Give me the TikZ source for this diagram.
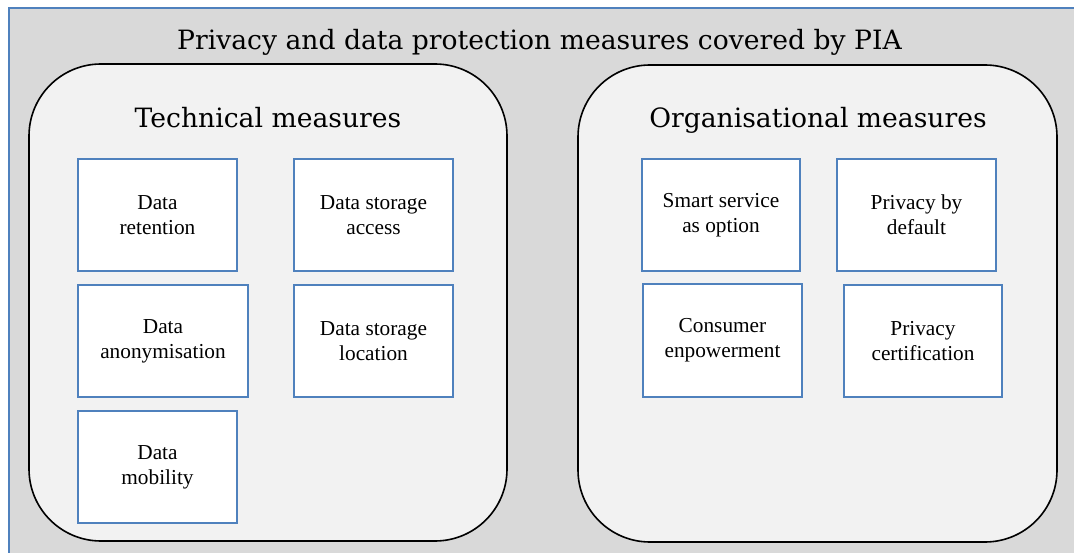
\documentclass[tikz,border=0pt]{standalone}
\usepackage{fontspec}
\setmainfont{Liberation Serif}
\newfontfamily\headfont{DejaVu Serif}

\definecolor{outergray}{HTML}{D9D9D9}
\definecolor{panelgray}{HTML}{F2F2F2}
\definecolor{boxblue}{HTML}{4F81BD}

\tikzset{
  panel/.style={draw=black, line width=1.6pt, fill=panelgray, rounded corners=72pt, inner sep=0pt},
  measure/.style={draw=boxblue, line width=1.5pt, fill=white, align=center, inner sep=0pt,
    minimum width=159pt, minimum height=112pt, font=\fontsize{21.3}{25}\selectfont},
  heading/.style={font=\headfont\fontsize{26.6}{32}\selectfont, anchor=base}
}

\begin{document}
\begin{tikzpicture}[x=1pt,y=-1pt]

\clip (0,0) rectangle (1074,553);
\path[fill=outergray, draw=boxblue, line width=1.8pt] (9,8) rectangle (1090,570);

\node[heading] (title) at (539.5,50) {Privacy and data protection measures covered by PIA};

\node[panel, minimum width=478pt, minimum height=477pt] (tech) at (268,302.5) {};
\node[panel, minimum width=479pt, minimum height=477pt] (org) at (817.5,303.5) {};

\node[heading] (techhead) at (268,128) {Technical measures};
\node[heading] (orghead) at (818,128) {Organisational measures};

\node[measure] (retention) at (157.5,215) {Data\\retention};
\node[measure] (access) at (373.5,215) {Data storage\\access};
\node[measure, minimum width=170pt] (anonym) at (163,341) {Data\\anonymisation};
\node[measure] (location) at (373.5,341) {Data storage\\location};
\node[measure] (mobility) at (157.5,467) {Data\\mobility};

\node[measure, minimum width=158pt] (smart) at (721,215) {Smart service\\as option};
\node[measure] (default) at (916.5,215) {Privacy by\\default};
\node[measure, minimum height=113pt] (empower) at (722.5,340.5) {Consumer\\enpowerment};
\node[measure, minimum width=158pt] (certif) at (923,341) {Privacy\\certification};

\end{tikzpicture}
\end{document}
